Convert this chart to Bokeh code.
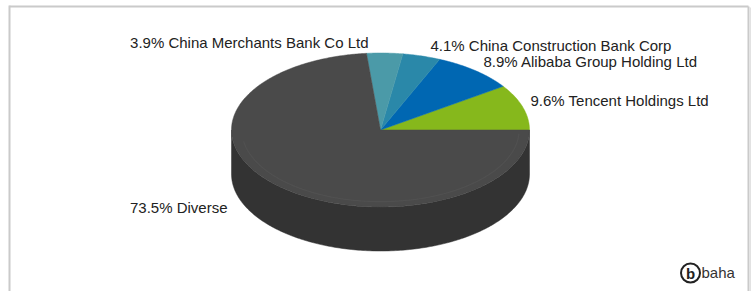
import numpy as np
from bokeh.plotting import figure
from bokeh.models import Range1d
from bokeh.embed import file_html
from bokeh.resources import INLINE
from bokeh.core.properties import value

# ---- data ----
names = ["Tencent Holdings Ltd", "Alibaba Group Holding Ltd",
         "China Construction Bank Corp", "China Merchants Bank Co Ltd", "Diverse"]
shares = [9.6, 8.9, 4.1, 3.9, 73.5]
top_colors = ["#86b81c", "#0067b2", "#2a88a9", "#4b9aa8", "#4a4a4a"]
side_colors = ["#5f8514", "#004a80", "#1e627a", "#366f79", "#333333"]

# ---- layout ----
W, H = 752, 291
CX, CY, RX, RY, DEPTH = 380.0, 129.5, 149.0, 77.0, 44.0
label_anchor = [(530, 100, "left"), (483, 60.5, "left"), (430, 45, "left"),
                (368, 41.5, "right"), (227, 207, "right")]
FONT = "Liberation Sans"

p = figure(width=W, height=H, x_range=Range1d(0, W), y_range=Range1d(H, 0),
           output_backend="svg", toolbar_location=None, min_border=0)
p.axis.visible = False
p.grid.visible = False
p.outline_line_color = None
p.background_fill_color = "white"
p.border_fill_color = "white"

# frame
p.segment(x0=[9, 9, 748], y0=[5, 6, 6], x1=[9, 748, 748], y1=[291, 6, 291],
          line_color="#cacaca", line_width=2)
p.segment(x0=[750], y0=[7], x1=[750], y1=[291], line_color="#e2e2e2", line_width=1)

vals = np.array(shares, dtype=float)
ends = np.cumsum(vals) / vals.sum() * 2 * np.pi
starts = np.concatenate([[0.0], ends[:-1]])


def ell(t, dy=0.0, k=1.0):
    return CX + k * RX * np.cos(t), CY - k * RY * np.sin(t) + dy


# sides (visible front half: pi..2pi)
sx, sy, sc = [], [], []
for s, e, c in zip(starts, ends, side_colors):
    a, b = max(s, np.pi), min(e, 2 * np.pi)
    if b <= a:
        continue
    t = np.linspace(a, b, 200)
    x1, y1 = ell(t)
    x2, y2 = ell(t[::-1], DEPTH)
    sx.append(list(np.concatenate([x1, x2])))
    sy.append(list(np.concatenate([y1, y2])))
    sc.append(c)
p.patches(xs=sx, ys=sy, fill_color=sc, line_color=sc, line_width=0.5)

# tops
tx, ty = [], []
for s, e in zip(starts, ends):
    n = max(int((e - s) / (2 * np.pi) * 600), 8)
    t = np.linspace(s, e, n)
    x, y = ell(t)
    tx.append([CX] + list(x))
    ty.append([CY] + list(y))
p.patches(xs=tx, ys=ty, fill_color=top_colors, line_color=top_colors, line_width=0.5)

# faint highlight ring on the dark top
hs = max(starts[-1], np.pi * 1.05)
th = np.linspace(hs, 2 * np.pi - 0.05, 200)
hx, hy = ell(th, k=0.93)
p.line(x=hx, y=hy, line_color="#555555", line_width=1.2, line_alpha=0.6)

# labels
for (lx, ly, al), nm, v in zip(label_anchor, names, shares):
    p.text(x=[lx], y=[ly], text=[f"{v:.1f}% {nm}"], text_align=al,
           text_baseline="alphabetic", text_font=value(FONT),
           text_font_size="15px", text_color="#222222")

# logo
p.circle(x=[690], y=[272.5], radius=9.5, fill_color=None, line_color="#222222", line_width=2)
p.text(x=[690], y=[272.5], text=["b"], text_align="center", text_baseline="middle",
       text_font=value(FONT), text_font_style="bold", text_font_size="15px",
       text_color="#222222")
p.text(x=[701], y=[271.5], text=["baha"], text_align="left", text_baseline="alphabetic",
       text_font=value(FONT), text_font_size="15px", text_color="#333333")

open("out.html", "w").write(file_html(p, INLINE))
